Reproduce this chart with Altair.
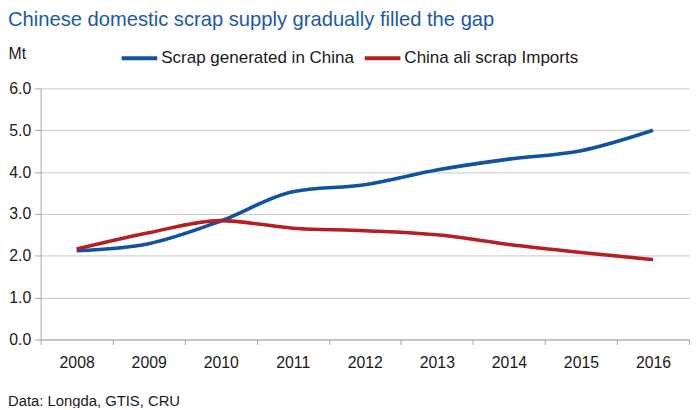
import altair as alt
import pandas as pd

years = ["2008", "2009", "2010", "2011", "2012", "2013", "2014", "2015", "2016"]
scrap_generated = [2.12, 2.29, 2.83, 3.53, 3.70, 4.05, 4.31, 4.51, 5.00]
ali_imports = [2.16, 2.55, 2.84, 2.66, 2.60, 2.50, 2.27, 2.08, 1.91]
series_names = ["Scrap generated in China", "China ali scrap Imports"]
series_colors = ["#1053A2", "#B51F24"]
y_ticks = [0, 1, 2, 3, 4, 5, 6]

title_text = "Chinese domestic scrap supply gradually filled the gap"
unit_text = "Mt"
source_text = "Data: Longda, GTIS, CRU"

FONT = "Liberation Sans"

df = pd.DataFrame({
    "Year": years * 2,
    "Value": scrap_generated + ali_imports,
    "Series": [series_names[0]] * len(years) + [series_names[1]] * len(years),
})

lines = alt.Chart(df).mark_line(
    strokeWidth=3.6, interpolate="monotone"
).encode(
    x=alt.X("Year:O", bandPosition=0.5,
            scale=alt.Scale(type="band", paddingInner=0, paddingOuter=0),
            axis=alt.Axis(title=None, labelAngle=0, tickBand="extent",
                          tickSize=5, labelPadding=10, grid=False)),
    y=alt.Y("Value:Q",
            scale=alt.Scale(domain=[0, 6], nice=False),
            axis=alt.Axis(values=y_ticks, format=".1f", tickSize=6, labelPadding=4,
                          title=unit_text, titleAngle=0, titleAlign="left",
                          titleBaseline="alphabetic", titleX=-33, titleY=-30,
                          titleFontWeight="normal", titleFontSize=16)),
    color=alt.Color("Series:N", sort=series_names,
                    scale=alt.Scale(domain=series_names, range=series_colors),
                    legend=alt.Legend(title=None, orient="none", direction="horizontal",
                                      legendX=80, legendY=-51,
                                      symbolType="stroke", symbolSize=1296,
                                      symbolStrokeWidth=4, labelOffset=2,
                                      columnPadding=3, labelFontSize=17.2,
                                      labelLimit=400)),
)

source = alt.Chart(pd.DataFrame({"t": [source_text]})).mark_text(
    align="left", baseline="middle", fontSize=15, color="#1a1a1a", font=FONT
).encode(
    text="t:N", x=alt.value(-33), y=alt.value(316)
)

chart = alt.layer(lines, source).properties(
    width=656,
    height=254,
    title=alt.TitleParams(title_text, anchor="start", frame="group", dx=-33, dy=-4,
                          fontSize=20.4, fontWeight="normal", color="#1A5AAA", font=FONT),
    autosize=alt.AutoSizeParams(type="none"),
    padding={"left": 33, "top": 79, "right": 1, "bottom": 67},
).configure(
    font=FONT
).configure_view(
    stroke=None
).configure_axis(
    labelFont=FONT, titleFont=FONT, labelFontSize=16, labelColor="#1a1a1a",
    titleColor="#1a1a1a", domainColor="#A6A6A6", tickColor="#A6A6A6",
    gridColor="#C4C4C4", domainWidth=1, gridWidth=1
).configure_legend(
    labelFont=FONT, labelColor="#1a1a1a"
)

chart.save("out.html", embed_options={"renderer": "svg", "actions": False})
